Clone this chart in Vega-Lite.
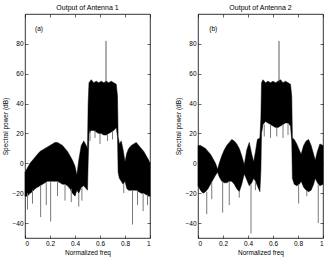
{
  "$schema": "https://vega.github.io/schema/vega-lite/v6.json",
  "background": "white",
  "padding": {"left": 2, "top": 3, "right": 5, "bottom": 1},
  "spacing": 23,
  "datasets": {
    "env": [
      {"panel": "a", "f": 0.00, "hi": -6, "lo": -22},
      {"panel": "a", "f": 0.02, "hi": -3, "lo": -22},
      {"panel": "a", "f": 0.04, "hi": 0, "lo": -20},
      {"panel": "a", "f": 0.06, "hi": 2, "lo": -19},
      {"panel": "a", "f": 0.08, "hi": 4, "lo": -17},
      {"panel": "a", "f": 0.10, "hi": 6, "lo": -16},
      {"panel": "a", "f": 0.12, "hi": 8, "lo": -15},
      {"panel": "a", "f": 0.14, "hi": 9, "lo": -14},
      {"panel": "a", "f": 0.16, "hi": 10, "lo": -13},
      {"panel": "a", "f": 0.18, "hi": 11, "lo": -12},
      {"panel": "a", "f": 0.20, "hi": 12, "lo": -12},
      {"panel": "a", "f": 0.22, "hi": 13, "lo": -12},
      {"panel": "a", "f": 0.24, "hi": 14, "lo": -12},
      {"panel": "a", "f": 0.26, "hi": 14, "lo": -12},
      {"panel": "a", "f": 0.28, "hi": 13, "lo": -13},
      {"panel": "a", "f": 0.30, "hi": 12, "lo": -14},
      {"panel": "a", "f": 0.32, "hi": 10, "lo": -14},
      {"panel": "a", "f": 0.34, "hi": 8, "lo": -15},
      {"panel": "a", "f": 0.36, "hi": 5, "lo": -17},
      {"panel": "a", "f": 0.38, "hi": 2, "lo": -20},
      {"panel": "a", "f": 0.40, "hi": -2, "lo": -22},
      {"panel": "a", "f": 0.415, "hi": -8, "lo": -18},
      {"panel": "a", "f": 0.43, "hi": 2, "lo": -20},
      {"panel": "a", "f": 0.45, "hi": 12, "lo": -16},
      {"panel": "a", "f": 0.47, "hi": 15, "lo": -15},
      {"panel": "a", "f": 0.49, "hi": 12, "lo": -17},
      {"panel": "a", "f": 0.50, "hi": 10, "lo": -18},
      {"panel": "a", "f": 0.505, "hi": 40, "lo": 0},
      {"panel": "a", "f": 0.512, "hi": 54, "lo": 20},
      {"panel": "a", "f": 0.53, "hi": 56, "lo": 22},
      {"panel": "a", "f": 0.55, "hi": 54, "lo": 22},
      {"panel": "a", "f": 0.57, "hi": 55, "lo": 21},
      {"panel": "a", "f": 0.59, "hi": 54, "lo": 20},
      {"panel": "a", "f": 0.61, "hi": 55, "lo": 20},
      {"panel": "a", "f": 0.63, "hi": 54, "lo": 19},
      {"panel": "a", "f": 0.65, "hi": 55, "lo": 19},
      {"panel": "a", "f": 0.67, "hi": 54, "lo": 20},
      {"panel": "a", "f": 0.69, "hi": 55, "lo": 21},
      {"panel": "a", "f": 0.71, "hi": 54, "lo": 22},
      {"panel": "a", "f": 0.73, "hi": 53, "lo": 24},
      {"panel": "a", "f": 0.74, "hi": 45, "lo": 18},
      {"panel": "a", "f": 0.745, "hi": 18, "lo": -6},
      {"panel": "a", "f": 0.755, "hi": 13, "lo": -10},
      {"panel": "a", "f": 0.77, "hi": 15, "lo": -12},
      {"panel": "a", "f": 0.785, "hi": 9, "lo": -14},
      {"panel": "a", "f": 0.80, "hi": 1, "lo": -12},
      {"panel": "a", "f": 0.815, "hi": 7, "lo": -17},
      {"panel": "a", "f": 0.83, "hi": 10, "lo": -18},
      {"panel": "a", "f": 0.85, "hi": 12, "lo": -18},
      {"panel": "a", "f": 0.87, "hi": 13, "lo": -18},
      {"panel": "a", "f": 0.89, "hi": 14, "lo": -18},
      {"panel": "a", "f": 0.91, "hi": 12, "lo": -19},
      {"panel": "a", "f": 0.93, "hi": 10, "lo": -20},
      {"panel": "a", "f": 0.95, "hi": 8, "lo": -20},
      {"panel": "a", "f": 0.97, "hi": 5, "lo": -21},
      {"panel": "a", "f": 0.99, "hi": 2, "lo": -22},
      {"panel": "a", "f": 1.00, "hi": 0, "lo": -22},
      {"panel": "b", "f": 0.00, "hi": 12, "lo": -15},
      {"panel": "b", "f": 0.02, "hi": 12, "lo": -18},
      {"panel": "b", "f": 0.04, "hi": 11, "lo": -20},
      {"panel": "b", "f": 0.06, "hi": 10, "lo": -19},
      {"panel": "b", "f": 0.08, "hi": 8, "lo": -17},
      {"panel": "b", "f": 0.10, "hi": 6, "lo": -14},
      {"panel": "b", "f": 0.12, "hi": 3, "lo": -11},
      {"panel": "b", "f": 0.14, "hi": 0, "lo": -8},
      {"panel": "b", "f": 0.157, "hi": -4, "lo": -6},
      {"panel": "b", "f": 0.17, "hi": 0, "lo": -9},
      {"panel": "b", "f": 0.19, "hi": 5, "lo": -12},
      {"panel": "b", "f": 0.21, "hi": 9, "lo": -13},
      {"panel": "b", "f": 0.23, "hi": 12, "lo": -13},
      {"panel": "b", "f": 0.25, "hi": 14, "lo": -12},
      {"panel": "b", "f": 0.27, "hi": 16, "lo": -12},
      {"panel": "b", "f": 0.29, "hi": 15, "lo": -14},
      {"panel": "b", "f": 0.31, "hi": 13, "lo": -17},
      {"panel": "b", "f": 0.33, "hi": 10, "lo": -19},
      {"panel": "b", "f": 0.35, "hi": 5, "lo": -14},
      {"panel": "b", "f": 0.37, "hi": -1, "lo": -7},
      {"panel": "b", "f": 0.39, "hi": 9, "lo": -11},
      {"panel": "b", "f": 0.41, "hi": 14, "lo": -15},
      {"panel": "b", "f": 0.43, "hi": 6, "lo": -13},
      {"panel": "b", "f": 0.445, "hi": 1, "lo": -10},
      {"panel": "b", "f": 0.46, "hi": 8, "lo": -12},
      {"panel": "b", "f": 0.475, "hi": 16, "lo": -15},
      {"panel": "b", "f": 0.495, "hi": 17, "lo": -19},
      {"panel": "b", "f": 0.503, "hi": 30, "lo": -5},
      {"panel": "b", "f": 0.508, "hi": 54, "lo": 20},
      {"panel": "b", "f": 0.52, "hi": 56, "lo": 26},
      {"panel": "b", "f": 0.54, "hi": 54, "lo": 28},
      {"panel": "b", "f": 0.56, "hi": 55, "lo": 27},
      {"panel": "b", "f": 0.58, "hi": 54, "lo": 26},
      {"panel": "b", "f": 0.60, "hi": 55, "lo": 25},
      {"panel": "b", "f": 0.62, "hi": 54, "lo": 24},
      {"panel": "b", "f": 0.64, "hi": 55, "lo": 24},
      {"panel": "b", "f": 0.66, "hi": 56, "lo": 25},
      {"panel": "b", "f": 0.68, "hi": 54, "lo": 26},
      {"panel": "b", "f": 0.70, "hi": 55, "lo": 27},
      {"panel": "b", "f": 0.72, "hi": 54, "lo": 27},
      {"panel": "b", "f": 0.74, "hi": 53, "lo": 25},
      {"panel": "b", "f": 0.75, "hi": 45, "lo": 15},
      {"panel": "b", "f": 0.755, "hi": 17, "lo": -10},
      {"panel": "b", "f": 0.77, "hi": 16, "lo": -14},
      {"panel": "b", "f": 0.79, "hi": 13, "lo": -15},
      {"panel": "b", "f": 0.81, "hi": 9, "lo": -14},
      {"panel": "b", "f": 0.825, "hi": 6, "lo": -12},
      {"panel": "b", "f": 0.845, "hi": 12, "lo": -16},
      {"panel": "b", "f": 0.865, "hi": 15, "lo": -18},
      {"panel": "b", "f": 0.885, "hi": 16, "lo": -19},
      {"panel": "b", "f": 0.905, "hi": 12, "lo": -18},
      {"panel": "b", "f": 0.925, "hi": 6, "lo": -14},
      {"panel": "b", "f": 0.938, "hi": 2, "lo": -10},
      {"panel": "b", "f": 0.955, "hi": 8, "lo": -13},
      {"panel": "b", "f": 0.975, "hi": 13, "lo": -15},
      {"panel": "b", "f": 1.00, "hi": 12, "lo": -14}
    ],
    "spk": [
      {"panel": "a", "f": 0.02, "lo": -31, "hi": -20},
      {"panel": "a", "f": 0.06, "lo": -27, "hi": -18},
      {"panel": "a", "f": 0.125, "lo": -36, "hi": -15},
      {"panel": "a", "f": 0.17, "lo": -28, "hi": -13},
      {"panel": "a", "f": 0.205, "lo": -39, "hi": -12},
      {"panel": "a", "f": 0.26, "lo": -22, "hi": -12},
      {"panel": "a", "f": 0.32, "lo": -25, "hi": -14},
      {"panel": "a", "f": 0.37, "lo": -26, "hi": -17},
      {"panel": "a", "f": 0.43, "lo": -29, "hi": -20},
      {"panel": "a", "f": 0.455, "lo": -25, "hi": -16},
      {"panel": "a", "f": 0.52, "lo": 15, "hi": 22},
      {"panel": "a", "f": 0.56, "lo": 17, "hi": 22},
      {"panel": "a", "f": 0.60, "lo": 13, "hi": 20},
      {"panel": "a", "f": 0.66, "lo": 15, "hi": 19},
      {"panel": "a", "f": 0.70, "lo": 16, "hi": 21},
      {"panel": "a", "f": 0.79, "lo": -20, "hi": -14},
      {"panel": "a", "f": 0.86, "lo": -41, "hi": -18},
      {"panel": "a", "f": 0.90, "lo": -28, "hi": -18},
      {"panel": "a", "f": 0.945, "lo": -32, "hi": -20},
      {"panel": "a", "f": 0.98, "lo": -28, "hi": -21},
      {"panel": "b", "f": 0.07, "lo": -34, "hi": -19},
      {"panel": "b", "f": 0.11, "lo": -24, "hi": -13},
      {"panel": "b", "f": 0.197, "lo": -33, "hi": -12},
      {"panel": "b", "f": 0.25, "lo": -28, "hi": -12},
      {"panel": "b", "f": 0.33, "lo": -23, "hi": -19},
      {"panel": "b", "f": 0.424, "lo": -47, "hi": -14},
      {"panel": "b", "f": 0.459, "lo": -18, "hi": -12},
      {"panel": "b", "f": 0.53, "lo": 18, "hi": 26},
      {"panel": "b", "f": 0.58, "lo": 17, "hi": 26},
      {"panel": "b", "f": 0.63, "lo": 18, "hi": 24},
      {"panel": "b", "f": 0.68, "lo": 17, "hi": 26},
      {"panel": "b", "f": 0.72, "lo": 19, "hi": 27},
      {"panel": "b", "f": 0.805, "lo": -27, "hi": -14},
      {"panel": "b", "f": 0.87, "lo": -22, "hi": -18},
      {"panel": "b", "f": 0.962, "lo": -40, "hi": -14}
    ],
    "peak": [
      {"panel": "a", "f": 0.648, "lo": 54, "hi": 82},
      {"panel": "b", "f": 0.648, "lo": 54, "hi": 82}
    ]
  },
  "hconcat": [
    {
      "title": "Output of Antenna 1",
      "width": 125,
      "height": 224,
      "resolve": {"axis": {"x": "independent", "y": "independent"}},
      "layer": [
        {
          "data": {"name": "env"},
          "transform": [{"filter": "datum.panel === 'a'"}],
          "mark": {"type": "area", "color": "black", "stroke": "black", "strokeWidth": 0.5},
          "encoding": {
            "x": {"field": "f", "type": "quantitative", "scale": {"domain": [0, 1], "nice": false}, "axis": {"title": "Normalized freq", "values": [0, 0.2, 0.4, 0.6, 0.8, 1], "format": "~g"}},
            "y": {"field": "hi", "type": "quantitative", "scale": {"domain": [-50, 100], "nice": false, "zero": false}, "axis": {"title": "Spectral power (dB)", "values": [-40, -20, 0, 20, 40, 60, 80]}},
            "y2": {"field": "lo"}
          }
        },
        {
          "data": {"name": "spk"},
          "transform": [{"filter": "datum.panel === 'a'"}],
          "mark": {"type": "rule", "color": "#7a7a7a", "strokeWidth": 1},
          "encoding": {
            "x": {"field": "f", "type": "quantitative", "axis": {"orient": "top", "labels": false, "title": null, "values": [0, 0.2, 0.4, 0.6, 0.8, 1]}},
            "y": {"field": "lo", "type": "quantitative", "axis": {"orient": "right", "labels": false, "title": null, "values": [-40, -20, 0, 20, 40, 60, 80]}},
            "y2": {"field": "hi"}
          }
        },
        {
          "data": {"name": "peak"},
          "transform": [{"filter": "datum.panel === 'a'"}],
          "mark": {"type": "rule", "color": "#333333", "strokeWidth": 0.8},
          "encoding": {
            "x": {"field": "f", "type": "quantitative", "axis": null},
            "y": {"field": "lo", "type": "quantitative", "axis": null},
            "y2": {"field": "hi"}
          }
        },
        {
          "data": {"values": [{"t": "(a)"}]},
          "mark": {"type": "text", "align": "left", "baseline": "middle", "fontSize": 6.5, "color": "black"},
          "encoding": {
            "x": {"datum": 0.08, "type": "quantitative", "axis": null},
            "y": {"datum": 90, "type": "quantitative", "axis": null},
            "text": {"field": "t"}
          }
        }
      ]
    },
    {
      "title": "Output of Antenna 2",
      "width": 125,
      "height": 224,
      "resolve": {"axis": {"x": "independent", "y": "independent"}},
      "layer": [
        {
          "data": {"name": "env"},
          "transform": [{"filter": "datum.panel === 'b'"}],
          "mark": {"type": "area", "color": "black", "stroke": "black", "strokeWidth": 0.5},
          "encoding": {
            "x": {"field": "f", "type": "quantitative", "scale": {"domain": [0, 1], "nice": false}, "axis": {"title": "Normalized freq", "values": [0, 0.2, 0.4, 0.6, 0.8, 1], "format": "~g"}},
            "y": {"field": "hi", "type": "quantitative", "scale": {"domain": [-50, 100], "nice": false, "zero": false}, "axis": {"title": "Spectral power (dB)", "values": [-40, -20, 0, 20, 40, 60, 80]}},
            "y2": {"field": "lo"}
          }
        },
        {
          "data": {"name": "spk"},
          "transform": [{"filter": "datum.panel === 'b'"}],
          "mark": {"type": "rule", "color": "#7a7a7a", "strokeWidth": 1},
          "encoding": {
            "x": {"field": "f", "type": "quantitative", "axis": {"orient": "top", "labels": false, "title": null, "values": [0, 0.2, 0.4, 0.6, 0.8, 1]}},
            "y": {"field": "lo", "type": "quantitative", "axis": {"orient": "right", "labels": false, "title": null, "values": [-40, -20, 0, 20, 40, 60, 80]}},
            "y2": {"field": "hi"}
          }
        },
        {
          "data": {"name": "peak"},
          "transform": [{"filter": "datum.panel === 'b'"}],
          "mark": {"type": "rule", "color": "#333333", "strokeWidth": 0.8},
          "encoding": {
            "x": {"field": "f", "type": "quantitative", "axis": null},
            "y": {"field": "lo", "type": "quantitative", "axis": null},
            "y2": {"field": "hi"}
          }
        },
        {
          "data": {"values": [{"t": "(b)"}]},
          "mark": {"type": "text", "align": "left", "baseline": "middle", "fontSize": 6.5, "color": "black"},
          "encoding": {
            "x": {"datum": 0.09, "type": "quantitative", "axis": null},
            "y": {"datum": 90, "type": "quantitative", "axis": null},
            "text": {"field": "t"}
          }
        }
      ]
    }
  ],
  "config": {
    "font": "Liberation Sans",
    "view": {"stroke": "black", "strokeWidth": 0.8},
    "title": {"fontSize": 7, "fontWeight": "normal", "color": "black", "offset": 3, "font": "Liberation Sans"},
    "axis": {
      "domain": false,
      "grid": false,
      "tickSize": -3,
      "tickColor": "black",
      "tickWidth": 0.6,
      "labelFontSize": 6.5,
      "labelColor": "black",
      "labelPadding": 5,
      "titleFontSize": 6.5,
      "titleFontWeight": "normal",
      "titleColor": "black",
      "titlePadding": 3
    }
  }
}
